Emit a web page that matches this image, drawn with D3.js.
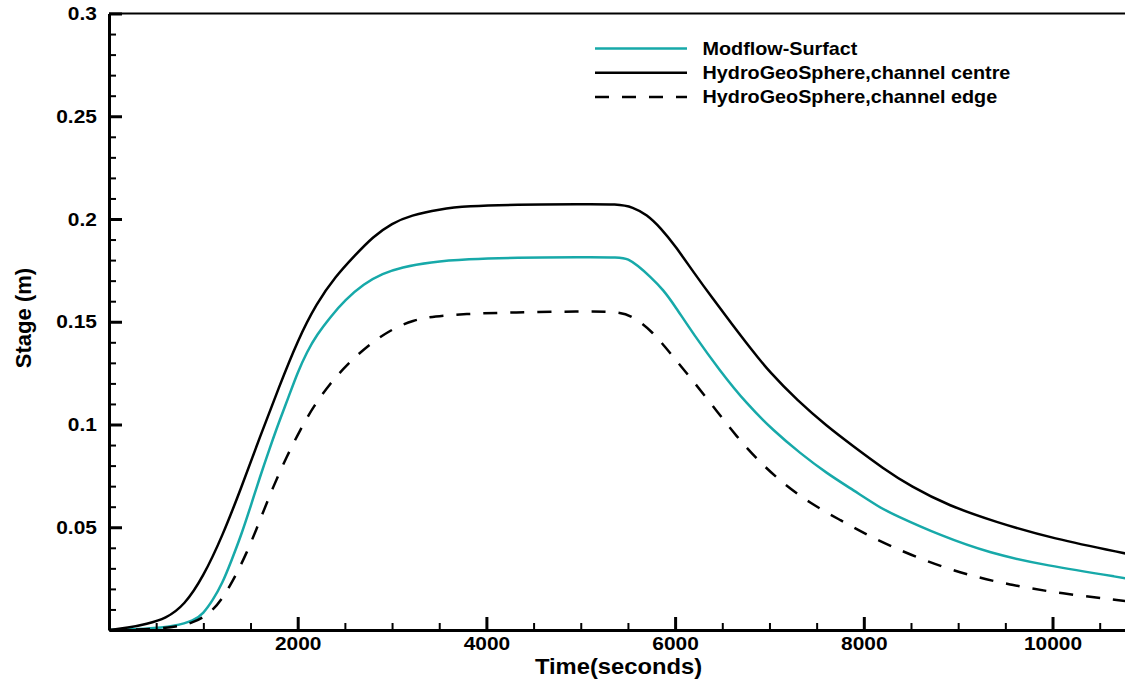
<!DOCTYPE html>
<html>
<head>
<meta charset="utf-8">
<script src="https://cdn.jsdelivr.net/npm/d3@7"></script>
<style>
  body { margin: 0; background: #fff; }
  text { font-family: "Liberation Sans", Arial, Helvetica, sans-serif; font-weight: bold; fill: #000; }
</style>
</head>
<body>
<div id="chart"></div>
<script>
// Series (time in seconds, stage in metres)
const centreTime = [0, 200, 400, 600, 800, 1000, 1200, 1400, 1600, 1800, 2000, 2200, 2400, 2600, 2800, 3000, 3200, 3500, 3800, 4300, 5000, 5400, 5550, 5700, 5850, 6000, 6200, 6400, 6600, 6800, 7000, 7300, 7600, 7900, 8200, 8500, 8900, 9400, 10000, 10800];
const centreStage = [0, 0.001, 0.003, 0.0055, 0.012, 0.026, 0.0455, 0.069, 0.094, 0.118, 0.141, 0.159, 0.172, 0.182, 0.1915, 0.198, 0.2018, 0.2048, 0.2063, 0.207, 0.2072, 0.2073, 0.2058, 0.2022, 0.1955, 0.187, 0.1738, 0.1612, 0.149, 0.137, 0.1255, 0.1115, 0.0995, 0.089, 0.0788, 0.0698, 0.0605, 0.0525, 0.0445, 0.037];

const modflowTime = [0, 400, 700, 900, 1000, 1100, 1200, 1300, 1400, 1500, 1600, 1700, 1800, 1900, 2000, 2100, 2200, 2350, 2500, 2700, 2900, 3100, 3400, 3800, 4300, 5000, 5420, 5500, 5600, 5735, 5876, 6000, 6194, 6477, 6760, 7043, 7326, 7609, 7891, 8173, 8315, 8809, 9340, 9905, 10800];
const modflowStage = [0, 0.0005, 0.0018, 0.0045, 0.008, 0.0145, 0.0225, 0.034, 0.046, 0.06, 0.0745, 0.088, 0.101, 0.113, 0.1255, 0.1355, 0.1435, 0.1525, 0.1605, 0.1685, 0.1735, 0.1765, 0.179, 0.1805, 0.1812, 0.1814, 0.1814, 0.1806, 0.1775, 0.172, 0.1655, 0.1575, 0.144, 0.126, 0.11, 0.097, 0.086, 0.0762, 0.068, 0.0595, 0.0562, 0.046, 0.0373, 0.0316, 0.025];

const edgeTime = [0, 600, 894, 1106, 1283, 1460, 1601, 1742, 1884, 2025, 2166, 2343, 2520, 2732, 2979, 3226, 3450, 3756, 4286, 5000, 5399, 5558, 5770, 5947, 6159, 6406, 6653, 6901, 7148, 7431, 7749, 8067, 8491, 9021, 9551, 10081, 10800];
const edgeStage = [0, 0.0005, 0.0032, 0.009, 0.021, 0.0373, 0.0535, 0.07, 0.0844, 0.0973, 0.1087, 0.12, 0.129, 0.138, 0.146, 0.1509, 0.1527, 0.1538, 0.1546, 0.155, 0.155, 0.1525, 0.1448, 0.1347, 0.123, 0.1087, 0.094, 0.0815, 0.0712, 0.0617, 0.0535, 0.0454, 0.0365, 0.0276, 0.0219, 0.0178, 0.014];

const seriesNames = ['Modflow-Surfact', 'HydroGeoSphere,channel centre', 'HydroGeoSphere,channel edge'];
const xTickValues = [2000, 4000, 6000, 8000, 10000];
const yTickValues = [0.05, 0.1, 0.15, 0.2, 0.25, 0.3];
const xDomain = [0, 10800];
const yDomain = [0, 0.3];

class StageChart {
  constructor(_config) {
    this.config = {
      parentElement: _config.parentElement,
      containerWidth: 1125,
      containerHeight: 681,
      margin: { top: 13.5, left: 109, bottom: 51 },
      innerWidth: 1019
    };
    this.series = [
      { name: seriesNames[0], t: modflowTime, v: modflowStage, color: '#17a9a9', dash: null },
      { name: seriesNames[1], t: centreTime, v: centreStage, color: '#000', dash: null },
      { name: seriesNames[2], t: edgeTime, v: edgeStage, color: '#000', dash: '14,13' }
    ];
    this.initVis();
  }

  initVis() {
    let vis = this;
    vis.width = vis.config.innerWidth;
    vis.height = vis.config.containerHeight - vis.config.margin.top - vis.config.margin.bottom;

    vis.svg = d3.select(vis.config.parentElement)
      .append('svg')
      .attr('width', vis.config.containerWidth)
      .attr('height', vis.config.containerHeight);

    vis.chart = vis.svg.append('g')
      .attr('transform', `translate(${vis.config.margin.left},${vis.config.margin.top})`);

    vis.xScale = d3.scaleLinear().domain(xDomain).range([0, vis.width]);
    vis.yScale = d3.scaleLinear().domain(yDomain).range([vis.height, 0]);

    vis.renderVis();
  }

  renderVis() {
    let vis = this;

    // B-spline smooths out reading noise in the hand-picked points
    const line = d3.line()
      .x(d => vis.xScale(d[0]))
      .y(d => vis.yScale(d[1]))
      .curve(d3.curveBasis);

    vis.chart.selectAll('.series')
      .data(vis.series)
      .join('path')
      .attr('class', 'series')
      .attr('d', s => line(s.t.map((t, i) => [t, s.v[i]])))
      .attr('fill', 'none')
      .attr('stroke', s => s.color)
      .attr('stroke-width', 2.5)
      .attr('stroke-dasharray', s => s.dash);

    // top frame line
    vis.chart.append('line')
      .attr('x1', 0).attr('x2', vis.width)
      .attr('y1', 0).attr('y2', 0)
      .attr('stroke', '#000').attr('stroke-width', 2);

    // minor ticks
    const xMinor = d3.range(500, xDomain[1], 500).filter(d => d % 2000 !== 0);
    const yMinor = d3.range(1, 30).map(d => d / 100).filter(d => Math.round(d * 100) % 5 !== 0);

    vis.chart.append('g')
      .attr('transform', `translate(0,${vis.height})`)
      .call(d3.axisBottom(vis.xScale).tickValues(xMinor).tickSizeInner(-7).tickSizeOuter(0).tickFormat(''))
      .call(g => g.select('.domain').remove())
      .call(g => g.selectAll('line').attr('stroke-width', 2));

    vis.chart.append('g')
      .call(d3.axisLeft(vis.yScale).tickValues(yMinor).tickSizeInner(-7).tickSizeOuter(0).tickFormat(''))
      .call(g => g.select('.domain').remove())
      .call(g => g.selectAll('line').attr('stroke-width', 2));

    // major axes
    vis.xAxisG = vis.chart.append('g')
      .attr('transform', `translate(0,${vis.height})`)
      .call(d3.axisBottom(vis.xScale).tickValues(xTickValues).tickSizeInner(-13).tickSizeOuter(0).tickPadding(7).tickFormat(d3.format('d')));

    vis.yAxisG = vis.chart.append('g')
      .call(d3.axisLeft(vis.yScale).tickValues(yTickValues).tickSizeInner(-13).tickSizeOuter(0).tickPadding(11).tickFormat(d => String(d)));

    [vis.xAxisG, vis.yAxisG].forEach(g => {
      g.select('.domain').attr('stroke-width', 3);
      g.selectAll('.tick line').attr('stroke-width', 3);
      g.selectAll('.tick text')
        .attr('font-size', 19)
        .attr('font-family', null)
        .attr('transform', 'scale(1.1,1)');
    });

    // axis titles
    vis.chart.append('text')
      .attr('transform', `translate(${vis.width / 2},${vis.height + 43.5}) scale(1.08,1)`)
      .attr('text-anchor', 'middle')
      .attr('font-size', 22)
      .text('Time(seconds)');

    vis.svg.append('text')
      .attr('transform', `translate(31,318) rotate(-90)`)
      .attr('text-anchor', 'middle')
      .attr('font-size', 22)
      .text('Stage (m)');

    // legend
    const legend = vis.svg.append('g').attr('transform', 'translate(595,48.5)');
    const rows = legend.selectAll('.legend-row')
      .data(vis.series)
      .join('g')
      .attr('class', 'legend-row')
      .attr('transform', (d, i) => `translate(0,${i * 24.2})`);
    rows.append('line')
      .attr('x1', 0).attr('x2', 92)
      .attr('stroke', d => d.color)
      .attr('stroke-width', 2.5)
      .attr('stroke-dasharray', d => d.dash);
    rows.append('text')
      .attr('transform', 'translate(107.5,6.5) scale(1.1,1)')
      .attr('font-size', 18)
      .text(d => d.name);
  }
}

new StageChart({ parentElement: '#chart' });
</script>
</body>
</html>
